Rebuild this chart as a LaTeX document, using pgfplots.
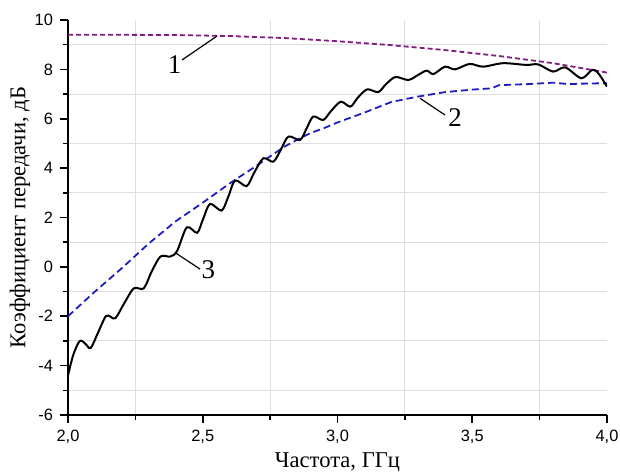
\documentclass[border=0pt]{standalone}
\usepackage{fontspec}
\setmainfont{Liberation Serif}
\newfontfamily\arialfont{Liberation Sans}
\usepackage{pgfplots}
\pgfplotsset{compat=1.18}

\definecolor{curvepurple}{RGB}{128,30,128}
\definecolor{curveblue}{RGB}{30,30,190}

\begin{document}
\begin{tikzpicture}
\useasboundingbox (-34pt,-30pt) rectangle (276pt,207.5pt);
\begin{axis}[
    scale only axis,
    width=269.5pt, height=197.5pt,
    xmin=2, xmax=4, ymin=-6, ymax=10,
    axis x line*=bottom, axis y line*=left,
    xtick={2,2.5,...,4}, minor x tick num=1,
    ytick={-6,-4,...,10}, minor y tick num=1,
    grid=minor,
    minor grid style={black!13, line width=0.5pt},
    tick align=outside,
    major tick length=4pt, minor tick length=2.5pt,
    every tick/.style={black, line width=0.8pt},
    axis line style={line width=1pt},
    xticklabel style={font=\arialfont\fontsize{8.2}{10}\selectfont,
        /pgf/number format/.cd, fixed, fixed zerofill, precision=1, use comma, assume math mode=true},
    yticklabel style={font=\arialfont\fontsize{8.2}{10}\selectfont,
        /pgf/number format/.cd, fixed, precision=0, assume math mode=true},
    xlabel={Частота, ГГц},
    ylabel={Коэффициент передачи, дБ},
    every axis x label/.style={at={(axis description cs:0.5,0)}, yshift=-23.5pt,
        anchor=center, font=\fontsize{11.3}{13}\selectfont},
    every axis y label/.style={at={(axis description cs:0,0.5)}, xshift=-24pt,
        rotate=90, anchor=center, font=\fontsize{11.3}{13}\selectfont},
]
% 1
\addplot[curvepurple, line width=0.9pt, dash pattern=on 2.5pt off 1.5pt] coordinates {
    (2.0,9.40) (2.2,9.40) (2.4,9.39) (2.6,9.35) (2.8,9.27) (3.0,9.14)
    (3.2,8.98) (3.4,8.78) (3.6,8.54) (3.8,8.25) (4.0,7.87)
};
% 2
\addplot[curveblue, line width=0.9pt, dash pattern=on 3.5pt off 2pt] coordinates {
    (2.0,-2.0) (2.1,-1.0) (2.2,-0.05) (2.3,0.95) (2.4,1.85) (2.5,2.6)
    (2.6,3.38) (2.7,4.1) (2.8,4.85) (2.85,5.15) (2.9,5.42) (2.95,5.62)
    (3.0,5.85) (3.1,6.25) (3.2,6.68) (3.3,6.90) (3.4,7.08) (3.5,7.18)
    (3.57,7.23) (3.60,7.36) (3.7,7.40) (3.8,7.46) (3.86,7.40) (3.9,7.42) (4.0,7.44)
};
% 3
\addplot[black, line width=1pt, smooth, tension=0.5] coordinates {
    (2.000,-4.40) (2.020,-3.55) (2.044,-3.00) (2.065,-3.12) (2.084,-3.29)
    (2.110,-2.70) (2.140,-2.00) (2.158,-2.02) (2.176,-2.08) (2.210,-1.45)
    (2.244,-0.87) (2.281,-0.87) (2.310,-0.20) (2.343,0.42) (2.380,0.42)
    (2.405,0.65) (2.441,1.60) (2.479,1.38) (2.500,1.90) (2.527,2.55)
    (2.570,2.28) (2.595,2.85) (2.620,3.50) (2.663,3.27) (2.690,3.80)
    (2.725,4.40) (2.762,4.26) (2.790,4.75) (2.818,5.28) (2.861,5.14)
    (2.885,5.60) (2.910,6.09) (2.947,5.95) (2.975,6.30) (3.012,6.69)
    (3.048,6.49) (3.075,6.85) (3.110,7.19) (3.151,7.08) (3.180,7.40)
    (3.215,7.69) (3.263,7.57) (3.300,7.78) (3.331,7.95) (3.356,7.81)
    (3.399,8.11) (3.436,8.00) (3.490,8.22) (3.540,8.11) (3.615,8.25)
    (3.700,8.18) (3.745,8.20) (3.800,7.91) (3.845,8.08) (3.905,7.64)
    (3.945,7.98) (3.968,7.84) (4.000,7.30)
};
% annotations
\draw[black, line width=0.6pt] (axis cs:2.423,8.38) -- (axis cs:2.553,9.35);
\node[font=\fontsize{13.5}{15}\selectfont] at (axis cs:2.396,8.20) {1};
\draw[black, line width=0.6pt] (axis cs:3.399,6.15) -- (axis cs:3.306,6.83);
\node[font=\fontsize{13.5}{15}\selectfont] at (axis cs:3.436,6.05) {2};
\draw[black, line width=0.6pt] (axis cs:2.397,0.58) -- (axis cs:2.49,-0.09);
\node[font=\fontsize{13.5}{15}\selectfont] at (axis cs:2.521,-0.10) {3};
\end{axis}
\end{tikzpicture}
\end{document}
